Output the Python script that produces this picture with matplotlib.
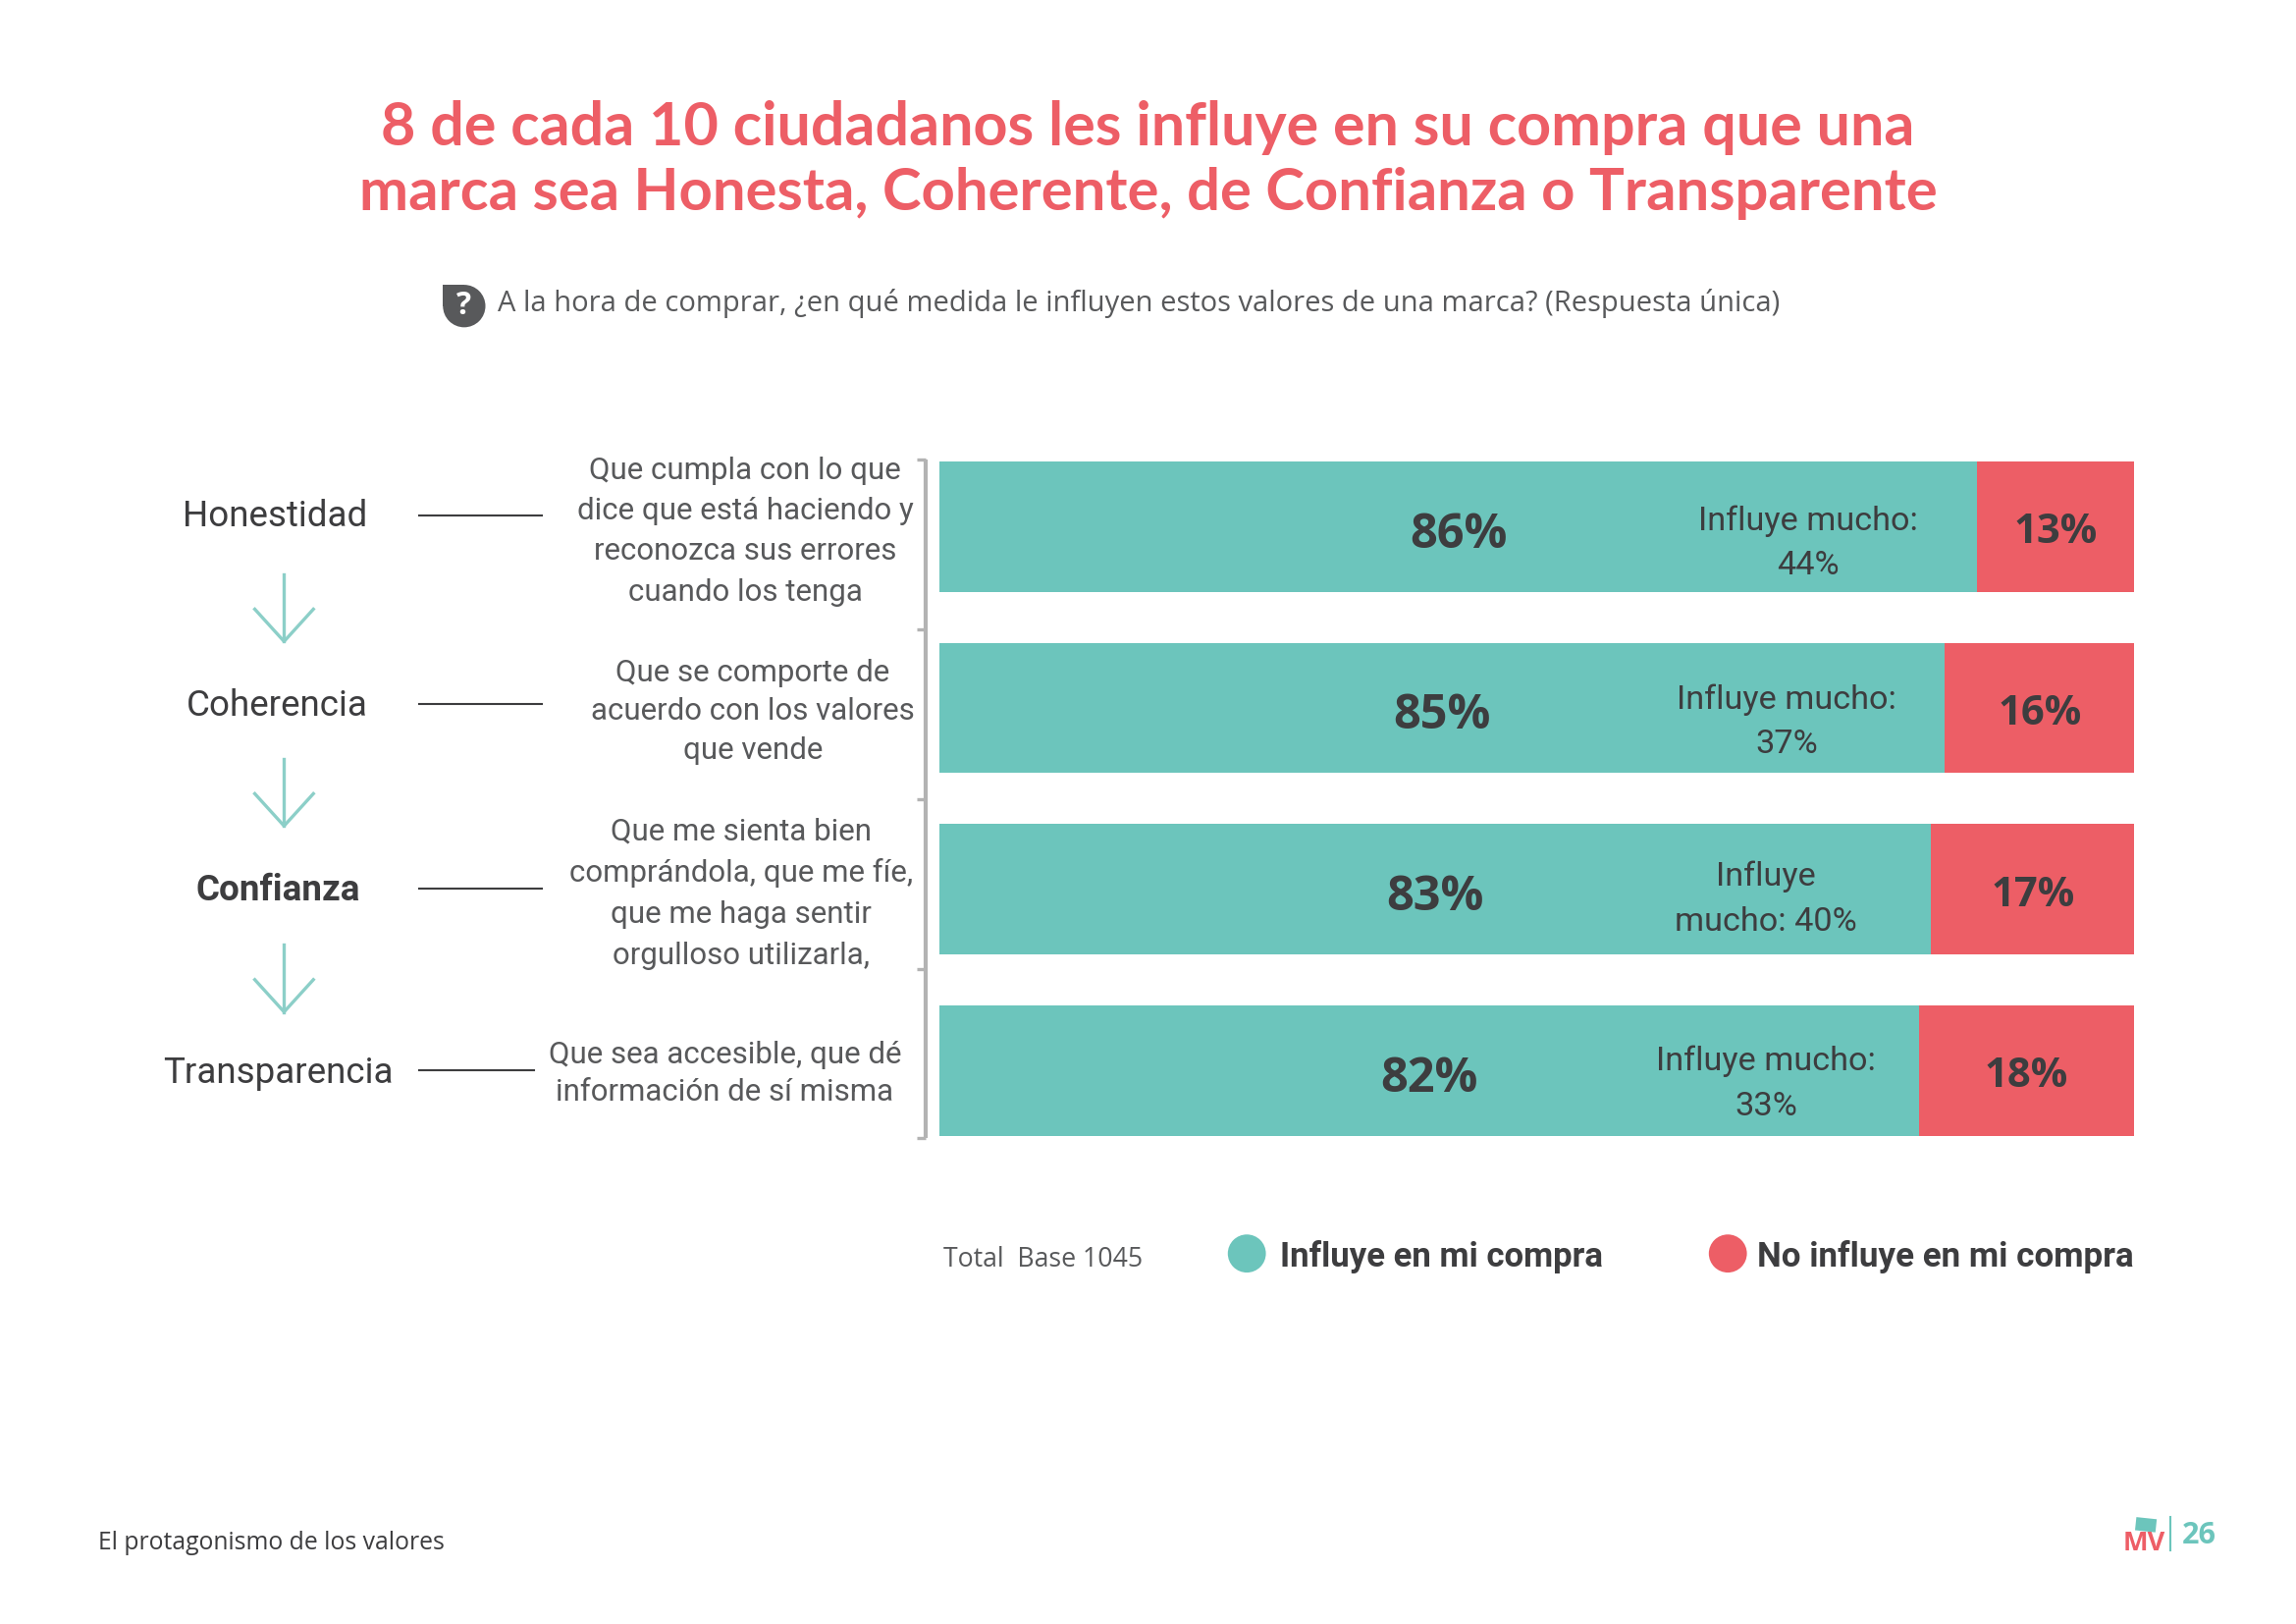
import matplotlib
matplotlib.use('Agg')
import matplotlib.pyplot as plt
from matplotlib.patches import Circle, Rectangle

TEAL = '#6cc5bc'
RED = '#ed5e66'
DARK = '#3d3d3f'
GREY = '#58595b'

title_lines = ['8 de cada 10 ciudadanos les influye en su compra que una',
               'marca sea Honesta, Coherente, de Confianza o Transparente']
question = 'A la hora de comprar, ¿en qué medida le influyen estos valores de una marca? (Respuesta única)'
values_names = ['Honestidad', 'Coherencia', 'Confianza', 'Transparencia']
statements = ['Que cumpla con lo que\ndice que está haciendo y\nreconozca sus errores\ncuando los tenga',
              'Que se comporte de\nacuerdo con los valores\nque vende',
              'Que me sienta bien\ncomprándola, que me fíe,\nque me haga sentir\norgulloso utilizarla,',
              'Que sea accesible, que dé\ninformación de sí misma']
influye = [86, 85, 83, 82]
no_influye = [13, 16, 17, 18]
mucho_labels = ['Influye mucho:\n44%', 'Influye mucho:\n37%', 'Influye\nmucho: 40%', 'Influye mucho:\n33%']
legend_labels = ['Influye en mi compra', 'No influye en mi compra']
base_label = 'Total  Base 1045'
footer = 'El protagonismo de los valores'
page = '26'

NARROW = ['Roboto', 'DejaVu Sans']

fig = plt.figure(figsize=(23.39, 16.54), dpi=100, facecolor='white')
W, H = 1568, 1109

ov = fig.add_axes([0, 0, 1, 1], zorder=3)
ov.set_xlim(0, W); ov.set_ylim(H, 0); ov.axis('off'); ov.patch.set_alpha(0)

ax = fig.add_axes([641.5/W, 1-775.5/H, (1457.5-641.5)/W, (775.5-315)/H], zorder=1)
ypos = list(range(len(influye)))
totals = [a+b for a, b in zip(influye, no_influye)]
share_a = [a/t for a, t in zip(influye, totals)]
share_b = [b/t for b, t in zip(no_influye, totals)]
b1 = ax.barh(ypos, share_a, height=0.718, color=TEAL)
b2 = ax.barh(ypos, share_b, left=share_a, height=0.718, color=RED)
ax.set_xlim(0, 1); ax.set_ylim(3.357, -0.359); ax.axis('off')
for ann in ax.bar_label(b1, labels=[f'{v}%' for v in influye], label_type='center', color=DARK,
                        fontsize=35, fontweight='bold', family='Open Sans'):
    ann.xyann = (0, -6.4)
for ann in ax.bar_label(b2, labels=[f'{v}%' for v in no_influye], label_type='center', color=DARK,
                        fontsize=30, fontweight='bold', family='Open Sans'):
    ann.xyann = (0, -4.6)

for t, y, fs in zip(title_lines, [87, 132], [43.9, 43.0]):
    ov.text(784, y, t, ha='center', va='center', color=RED, fontsize=fs,
            fontweight='bold', family='Lato')

ov.add_patch(Circle((317, 209), 14.5, color=GREY, lw=0))
ov.add_patch(Rectangle((302.5, 194.5), 14.5, 14.5, color=GREY, lw=0))
ov.text(316.5, 209, '?', ha='center', va='center', color='white', fontsize=23,
        fontweight='bold', family='Open Sans')
ov.text(340, 207, question, ha='left', va='center', color=GREY, fontsize=21, family='Open Sans')

name_x = [188, 189, 190, 190]
name_y = [353, 482, 608, 733]
line_y = [352, 481, 606.5, 731]
line_end = [370, 370, 370, 365]
stmt_x = [509, 514, 506, 495]
stmt_y = [363, 486, 610, 733]
stmt_sp = [1.53, 1.47, 1.55, 1.40]
for i, n in enumerate(values_names):
    ov.text(name_x[i], name_y[i], n, ha='center', va='center', color=DARK, fontsize=26.5,
            family=NARROW, fontweight='bold' if n == 'Confianza' else 'normal')
    ov.plot([286, line_end[i]], [line_y[i]]*2, color=DARK, lw=1.5)
    ov.text(stmt_x[i], stmt_y[i], statements[i], ha='center', va='center', color=GREY,
            fontsize=22.5, family=NARROW, linespacing=stmt_sp[i])

for top in [392, 518, 645]:
    ov.plot([194, 194], [top, top+46], color='#8ccfc8', lw=2.4)
    ov.plot([174, 194, 214], [top+24, top+46, top+24], color='#8ccfc8', lw=2.4)

ov.plot([632, 632], [314, 777], color='#b3b3b3', lw=3, solid_capstyle='butt')
for y in [314, 430, 546, 662, 777]:
    ov.plot([626, 632], [y, y], color='#b3b3b3', lw=2.4, solid_capstyle='butt')

mx = [1235, 1220, 1206, 1206]
my = [371, 493, 614, 740]
for x, y, t in zip(mx, my, mucho_labels):
    ov.text(x, y, t, ha='center', va='center', color=DARK, fontsize=24.7, family=NARROW, linespacing=1.55)

ov.text(644, 860, base_label, ha='left', va='center', color=GREY, fontsize=19.2, family='Open Sans')
ov.add_patch(Circle((851.5, 856), 13, color=TEAL, lw=0))
ov.add_patch(Circle((1180, 856), 13, color=RED, lw=0))
ov.text(874, 858, legend_labels[0], ha='left', va='center', color=DARK, fontsize=25, family=NARROW, fontweight='bold')
ov.text(1200, 858, legend_labels[1], ha='left', va='center', color=DARK, fontsize=25.2, family=NARROW, fontweight='bold')

ov.text(67, 1054, footer, ha='left', va='center', color=DARK, fontsize=17.8, family='Open Sans')
ov.add_patch(Rectangle((1459, 1036), 14, 9, angle=6, color=TEAL, lw=0))
ov.text(1464, 1054, 'MV', ha='center', va='center', color=RED, fontsize=19.5, fontweight='bold', family='Open Sans')
ov.plot([1482, 1482], [1036, 1059], color=TEAL, lw=1.5)
ov.text(1502, 1048.5, page, ha='center', va='center', color=TEAL, fontsize=22, fontweight='bold', family='Open Sans')

fig.savefig('out.png', dpi=100, facecolor='white')
